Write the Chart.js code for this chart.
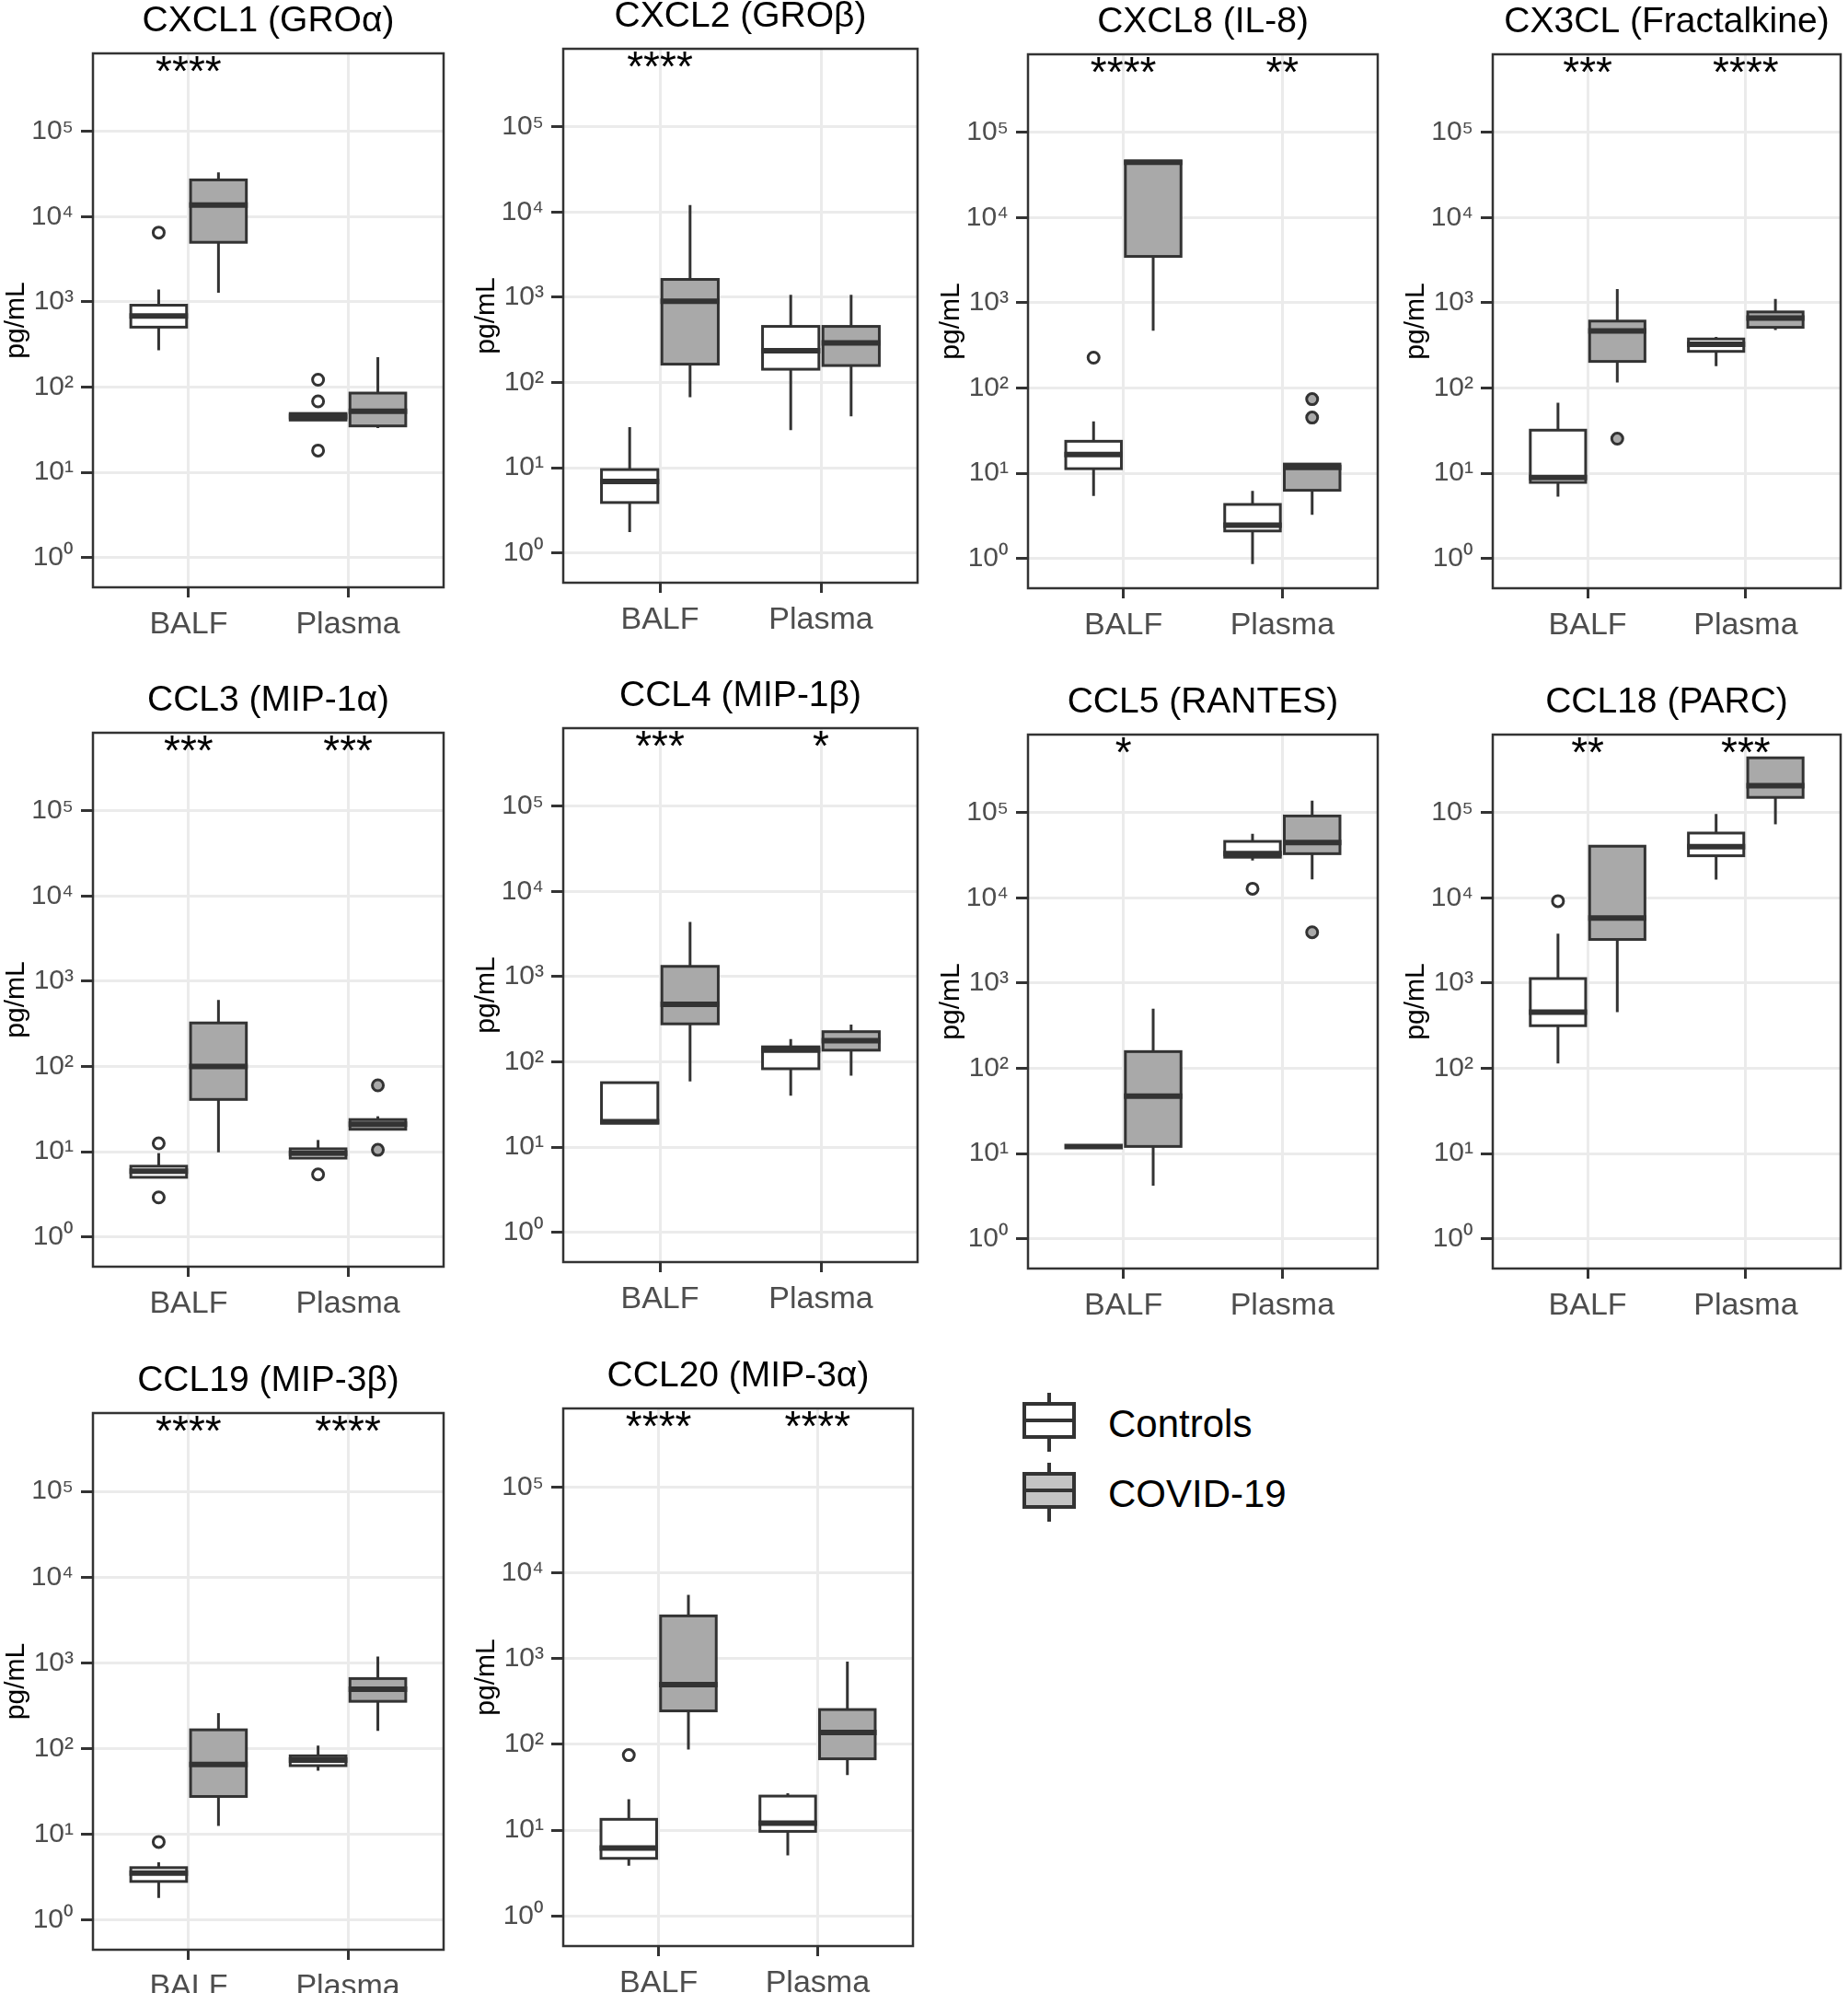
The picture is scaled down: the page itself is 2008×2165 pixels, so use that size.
<!DOCTYPE html>
<html>
<head>
<meta charset="utf-8">
<script src="https://cdn.jsdelivr.net/npm/chart.js@4.4.1/dist/chart.umd.min.js"></script>
<style>
  html, body { margin: 0; background: #fff; overflow: hidden; }
  #page { position: relative; width: 2008px; height: 2165px; overflow: hidden;
          font-family: "Liberation Sans", Arial, Helvetica, sans-serif; }
  #page canvas { position: absolute; }
  .key { position: absolute; width: 58px; height: 64px; }
  .key .whisker { position: absolute; left: 27px; top: 0; width: 4px; height: 64px; background: #333; }
  .key .box { position: absolute; left: 0; top: 10px; width: 58px; height: 40px; box-sizing: border-box;
              border: 4px solid #333; }
  .key .med { position: absolute; left: 0; top: 14px; width: 50px; height: 4px; background: #333; }
  .keyText { position: absolute; left: 1204px; font-size: 42px; color: #000; line-height: 42px; }
</style>
</head>
<body>
<div id="page"></div>
<script>
const panelTitles = ['CXCL1 (GROα)', 'CXCL2 (GROβ)', 'CXCL8 (IL-8)', 'CX3CL (Fractalkine)',
  'CCL3 (MIP-1α)', 'CCL4 (MIP-1β)', 'CCL5 (RANTES)', 'CCL18 (PARC)',
  'CCL19 (MIP-3β)', 'CCL20 (MIP-3α)'];
const categories = ['BALF', 'Plasma'];
const groups = ['Controls', 'COVID-19'];
const yTicks = [1, 10, 100, 1000, 10000, 100000];

// [min, q1, median, q3, max] per panel, for BALF then Plasma
const controlsStats = [
  [[270, 505, 682, 914, 1400], [41, 41, 45, 49, 49]],
  [[1.75, 3.9, 6.9, 9.5, 30], [27.6, 143, 236, 455, 1070]],
  [[5.4, 11.3, 16.6, 23.7, 40.6], [0.86, 2.1, 2.45, 4.3, 6.2]],
  [[5.3, 7.8, 8.9, 32, 67], [181, 269, 326, 376, 398]],
  [[5.0, 5.0, 5.9, 6.75, 9.6], [8.4, 8.4, 9.6, 10.8, 13.7]],
  [[19.1, 19.1, 19.8, 57, 57], [40, 83, 137, 150, 185]],
  [[12.1, 12.1, 12.1, 12.1, 12.1], [27500, 30000, 33000, 46000, 56600]],
  [[114, 316, 456, 1130, 3800], [16400, 31200, 39800, 57600, 96700]],
  [[1.8, 2.8, 3.5, 4.06, 4.7], [55, 63, 73, 82, 108]],
  [[3.85, 4.7, 6.2, 13.4, 23], [5.1, 9.7, 12.1, 25, 27]]
];
const covidStats = [
  [[1280, 5000, 13700, 27000, 33000], [33, 35, 52, 85, 225]],
  [[67, 164, 900, 1620, 12100], [40, 158, 291, 455, 1070]],
  [[470, 3500, 44700, 46000, 46000], [3.25, 6.3, 11.7, 12.8, 12.8]],
  [[116, 205, 466, 610, 1450], [480, 515, 660, 781, 1107]],
  [[9.8, 41, 100, 324, 604], [18.3, 18.3, 21, 23.8, 26]],
  [[59, 279, 472, 1320, 4390], [69, 137, 177, 226, 273]],
  [[4.2, 12.1, 47, 157, 500], [16500, 33000, 44600, 91500, 138000]],
  [[456, 3250, 5800, 40400, 40400], [73000, 151000, 207000, 440000, 440000]],
  [[12.5, 27.5, 65, 165, 258], [160, 355, 491, 655, 1180]],
  [[87, 246, 497, 3150, 5550], [44, 68, 138, 255, 925]]
];
const controlsOutliers = [
  [[6500], [122, 68, 18]], [[], []], [[227], []], [[], []], [[12.5, 2.9], [5.4]],
  [[], []], [[], [12800]], [[9150], []], [[8.1], []], [[75], []]
];
const covidOutliers = [
  [[], []], [[], []], [[], [74, 45]], [[25.4], []], [[], [60, 10.5]],
  [[], []], [[], [3950]], [[], []], [[], []], [[], []]
];
const stars = [
  ['****', ''], ['****', ''], ['****', '**'], ['***', '****'], ['***', '***'],
  ['***', '*'], ['*', ''], ['**', '***'], ['****', '****'], ['****', '****']
];

// plot area of each panel on the page: left, top, width, height
const panelBoxes = [
  [101, 58, 386, 580], [612, 53, 385, 580], [1117, 59, 385, 580], [1622, 59, 383, 580],
  [101, 796, 386, 580], [612, 791, 385, 580], [1117, 798, 385, 580], [1622, 798, 383, 580],
  [101, 1535, 386, 583], [612, 1530, 385, 584]
];

const FONT = '"Liberation Sans", Arial, Helvetica, sans-serif';
Chart.defaults.font.family = FONT;

const fills = ['#ffffff', '#a9a9a9'];
const offsets = [-0.1875, 0.1875];
const boxWidth = 0.35;
const axisW = 101, padTop = 75, axisH = 80, padRight = 4;

const sup = { '0': '⁰', '1': '¹', '2': '²', '3': '³', '4': '⁴', '5': '⁵' };
function powerLabel(v) {
  const e = String(Math.round(Math.log10(v)));
  return '10' + e.split('').map(c => sup[c]).join('');
}

const boxplotPlugin = {
  id: 'boxplot',
  beforeDatasetsDraw(chart) {
    const { ctx, scales: { x, y } } = chart;
    chart.data.datasets.forEach(ds => {
      ds.boxStats.forEach((s, i) => {
        const cx = i + 1 + ds.boxOffset;
        const left = x.getPixelForValue(cx - boxWidth / 2);
        const right = x.getPixelForValue(cx + boxWidth / 2);
        const mid = x.getPixelForValue(cx);
        const [lo, q1, med, q3, hi] = s.map(v => y.getPixelForValue(v));
        ctx.save();
        ctx.strokeStyle = '#333333';
        ctx.lineWidth = 3;
        ctx.beginPath();
        ctx.moveTo(mid, hi); ctx.lineTo(mid, q3);
        ctx.moveTo(mid, q1); ctx.lineTo(mid, lo);
        ctx.stroke();
        ctx.fillStyle = ds.boxFill;
        ctx.fillRect(left, q3, right - left, q1 - q3);
        ctx.strokeRect(left, q3, right - left, q1 - q3);
        ctx.lineWidth = 6;
        ctx.beginPath();
        ctx.moveTo(left - 1.5, med); ctx.lineTo(right + 1.5, med);
        ctx.stroke();
        ctx.restore();
      });
    });
  },
  afterDraw(chart) {
    const { ctx, chartArea: a, scales: { x } } = chart;
    const opts = chart.options.plugins.boxplot;
    ctx.save();
    ctx.strokeStyle = '#333333';
    ctx.lineWidth = 2.5;
    ctx.strokeRect(a.left, a.top, a.right - a.left, a.bottom - a.top);
    ctx.fillStyle = '#000';
    ctx.textAlign = 'center';
    ctx.textBaseline = 'middle';
    ctx.font = '39px ' + FONT;
    ctx.fillText(opts.title, (a.left + a.right) / 2, a.top - 35);
    ctx.textBaseline = 'alphabetic';
    ctx.font = '46px ' + FONT;
    opts.stars.forEach((s, i) => {
      if (s) ctx.fillText(s, x.getPixelForValue(i + 1), a.top + 35);
    });
    ctx.restore();
  }
};

const page = document.getElementById('page');

panelTitles.forEach((title, p) => {
  const [L, T, W, H] = panelBoxes[p];
  const canvas = document.createElement('canvas');
  canvas.width = axisW + W + padRight;
  canvas.height = padTop + H + axisH;
  canvas.style.left = (L - axisW) + 'px';
  canvas.style.top = (T - padTop) + 'px';
  page.appendChild(canvas);

  const stats = [controlsStats[p], covidStats[p]];
  const outs = [controlsOutliers[p], covidOutliers[p]];

  new Chart(canvas, {
    type: 'scatter',
    data: {
      datasets: groups.map((g, gi) => ({
        label: g,
        data: outs[gi].flatMap((vals, ci) => vals.map(v => ({ x: ci + 1 + offsets[gi], y: v }))),
        boxStats: stats[gi],
        boxOffset: offsets[gi],
        boxFill: fills[gi],
        pointRadius: 6,
        pointBorderWidth: 3,
        pointBorderColor: '#333333',
        pointBackgroundColor: fills[gi]
      }))
    },
    options: {
      responsive: false,
      animation: false,
      devicePixelRatio: 1,
      layout: { padding: { top: padTop, right: padRight, left: 0, bottom: 0 } },
      plugins: {
        legend: { display: false },
        tooltip: { enabled: false },
        boxplot: { title: title, stars: stars[p] }
      },
      scales: {
        x: {
          type: 'linear',
          min: 0.4,
          max: 2.6,
          afterBuildTicks: s => { s.ticks = categories.map((c, i) => ({ value: i + 1 })); },
          afterFit: s => { s.height = axisH; },
          border: { display: false },
          grid: { color: '#ebebeb', lineWidth: 3, tickColor: '#333333', tickLength: 11, tickWidth: 3 },
          ticks: {
            callback: v => categories[v - 1],
            font: { size: 34 },
            color: '#4d4d4d',
            padding: 9,
            maxRotation: 0
          }
        },
        y: {
          type: 'logarithmic',
          min: Math.pow(10, -0.35),
          max: Math.pow(10, 5.916),
          afterBuildTicks: s => { s.ticks = yTicks.map(v => ({ value: v })); },
          afterFit: s => { s.width = axisW; },
          border: { display: false },
          grid: { color: '#ebebeb', lineWidth: 3, tickColor: '#333333', tickLength: 13, tickWidth: 3 },
          ticks: {
            callback: v => powerLabel(v),
            font: { size: 30 },
            color: '#4d4d4d',
            padding: 8
          },
          title: {
            display: true,
            text: 'pg/mL',
            font: { size: 30 },
            color: '#000',
            padding: { top: 0, bottom: 0 }
          }
        }
      }
    },
    plugins: [boxplotPlugin]
  });
});

// legend
const legendFills = ['#ffffff', '#c4c4c4'];
groups.forEach((g, i) => {
  const top = 1513 + 76 * i;
  const key = document.createElement('div');
  key.className = 'key';
  key.style.left = '1111px';
  key.style.top = top + 'px';
  key.innerHTML = '<div class="whisker"></div><div class="box" style="background:' + legendFills[i] +
    '"><div class="med"></div></div>';
  page.appendChild(key);
  const label = document.createElement('div');
  label.className = 'keyText';
  label.style.top = (top + 30 - 17) + 'px';
  label.textContent = g;
  page.appendChild(label);
});
</script>
</body>
</html>
